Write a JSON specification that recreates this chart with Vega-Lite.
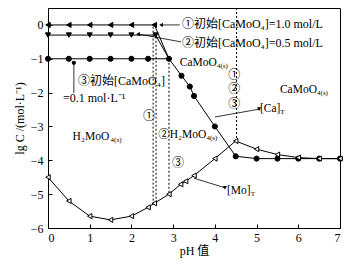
{
  "$schema": "https://vega.github.io/schema/vega-lite/v6.json",
  "width": 292,
  "height": 220,
  "autosize": {"type": "none"},
  "padding": {"left": 48, "top": 8, "right": 8, "bottom": 38},
  "background": "white",
  "config": {
    "view": {"stroke": "#000", "strokeWidth": 1},
    "font": "Liberation Serif, Noto Sans CJK SC",
    "axis": {
      "domainColor": "#000", "tickColor": "#000", "labelColor": "#000", "titleColor": "#000",
      "labelFont": "Liberation Serif", "labelFontSize": 12, "grid": false,
      "titleFont": "Liberation Serif, Noto Sans CJK SC", "titleFontWeight": "normal", "titleFontSize": 12
    }
  },
  "datasets": {
    "series": [
      {"s": "1", "pH": 0, "lgC": 0, "m": true},
      {"s": "1", "pH": 0.5, "lgC": 0, "m": true},
      {"s": "1", "pH": 1, "lgC": 0, "m": true},
      {"s": "1", "pH": 1.5, "lgC": 0, "m": true},
      {"s": "1", "pH": 2, "lgC": 0, "m": true},
      {"s": "1", "pH": 2.55, "lgC": 0, "m": true},
      {"s": "1", "pH": 2.9, "lgC": -1, "m": false},
      {"s": "2", "pH": 0, "lgC": -0.3, "m": true},
      {"s": "2", "pH": 0.5, "lgC": -0.3, "m": true},
      {"s": "2", "pH": 1, "lgC": -0.3, "m": true},
      {"s": "2", "pH": 1.5, "lgC": -0.3, "m": true},
      {"s": "2", "pH": 2, "lgC": -0.3, "m": true},
      {"s": "2", "pH": 2.58, "lgC": -0.3, "m": true},
      {"s": "2", "pH": 2.9, "lgC": -1, "m": false},
      {"s": "3", "pH": 0, "lgC": -1, "m": true},
      {"s": "3", "pH": 0.5, "lgC": -1, "m": true},
      {"s": "3", "pH": 1, "lgC": -1, "m": true},
      {"s": "3", "pH": 1.5, "lgC": -1, "m": true},
      {"s": "3", "pH": 2, "lgC": -1, "m": true},
      {"s": "3", "pH": 2.4, "lgC": -1, "m": true},
      {"s": "3", "pH": 2.9, "lgC": -1, "m": true},
      {"s": "3", "pH": 3.2, "lgC": -1.5, "m": true},
      {"s": "3", "pH": 3.4, "lgC": -1.82, "m": true},
      {"s": "3", "pH": 3.5, "lgC": -2.1, "m": true},
      {"s": "3", "pH": 4.0, "lgC": -3.0, "m": true},
      {"s": "3", "pH": 4.5, "lgC": -3.88, "m": true},
      {"s": "3", "pH": 5.0, "lgC": -3.95, "m": true},
      {"s": "3", "pH": 5.5, "lgC": -3.95, "m": true},
      {"s": "3", "pH": 6.0, "lgC": -3.95, "m": true},
      {"s": "3", "pH": 6.5, "lgC": -3.95, "m": true},
      {"s": "3", "pH": 7.0, "lgC": -3.95, "m": true},
      {"s": "Mo", "pH": 0, "lgC": -4.5, "m": true},
      {"s": "Mo", "pH": 0.5, "lgC": -5.2, "m": true},
      {"s": "Mo", "pH": 1, "lgC": -5.65, "m": true},
      {"s": "Mo", "pH": 1.5, "lgC": -5.76, "m": true},
      {"s": "Mo", "pH": 2, "lgC": -5.65, "m": true},
      {"s": "Mo", "pH": 2.4, "lgC": -5.39, "m": true},
      {"s": "Mo", "pH": 2.55, "lgC": -5.27, "m": true},
      {"s": "Mo", "pH": 2.9, "lgC": -5.0, "m": true},
      {"s": "Mo", "pH": 3.18, "lgC": -4.71, "m": true},
      {"s": "Mo", "pH": 3.3, "lgC": -4.62, "m": true},
      {"s": "Mo", "pH": 3.5, "lgC": -4.45, "m": true},
      {"s": "Mo", "pH": 4.0, "lgC": -3.95, "m": true},
      {"s": "Mo", "pH": 4.5, "lgC": -3.43, "m": true},
      {"s": "Mo", "pH": 5.0, "lgC": -3.67, "m": true},
      {"s": "Mo", "pH": 5.5, "lgC": -3.83, "m": true},
      {"s": "Mo", "pH": 6.0, "lgC": -3.92, "m": true},
      {"s": "Mo", "pH": 6.5, "lgC": -3.95, "m": true},
      {"s": "Mo", "pH": 7.0, "lgC": -3.95, "m": true}
    ],
    "dash": [
      {"pH": 2.52, "lgC": -0.05, "lgC2": -5.3},
      {"pH": 2.59, "lgC": -0.35, "lgC2": -5.25},
      {"pH": 2.9, "lgC": -1, "lgC2": -5.0},
      {"pH": 4.52, "lgC": 0.5, "lgC2": -3.42}
    ],
    "arrows": [
      {"pH": 3.16, "lgC": 0, "pH2": 2.71, "lgC2": 0, "head": "left"},
      {"pH": 3.19, "lgC": -0.5, "pH2": 2.16, "lgC2": -0.27, "head": "left"},
      {"pH": 0.62, "lgC": -2.01, "pH2": 0.62, "lgC2": -1.12, "head": "up"},
      {"pH": 4.0, "lgC": -2.72, "pH2": 5.06, "lgC2": -2.49, "head": "right"},
      {"pH": 3.5, "lgC": -4.53, "pH2": 4.24, "lgC2": -4.81, "head": "right"}
    ],
    "big": [
      {"pH": 3.21, "lgC": 0.03, "t": "①初始[CaMoO₄]=1.0 mol/L"},
      {"pH": 3.21, "lgC": -0.54, "t": "②初始[CaMoO₄]=0.5 mol/L"},
      {"pH": 0.72, "lgC": -1.66, "t": "③初始[CaMoO₄]"},
      {"pH": 0.36, "lgC": -2.16, "t": "=0.1 mol·L⁻¹"},
      {"pH": 4.32, "lgC": -1.48, "t": "①"},
      {"pH": 4.32, "lgC": -1.9, "t": "②"},
      {"pH": 4.32, "lgC": -2.34, "t": "③"},
      {"pH": 2.28, "lgC": -2.69, "t": "①"},
      {"pH": 2.97, "lgC": -4.07, "t": "③"}
    ],
    "chem": [
      {"pH": 3.16, "lgC": -1.12, "t": "CaMoO"},
      {"pH": 5.56, "lgC": -1.92, "t": "CaMoO"},
      {"pH": 5.08, "lgC": -2.49, "t": "[Ca]"},
      {"pH": 4.29, "lgC": -4.9, "t": "[Mo]"},
      {"pH": 0.59, "lgC": -3.32, "t": "H₂MoO"},
      {"pH": 2.64, "lgC": -3.25, "t": "②H₂MoO"}
    ],
    "subs": [
      {"pH": 4.05, "lgC": -1.12, "t": "4(s)"},
      {"pH": 6.45, "lgC": -1.92, "t": "4(s)"},
      {"pH": 5.57, "lgC": -2.49, "t": "T"},
      {"pH": 4.86, "lgC": -4.9, "t": "T"},
      {"pH": 1.5, "lgC": -3.32, "t": "4(s)"},
      {"pH": 3.8, "lgC": -3.25, "t": "4(s)"}
    ]
  },
  "encoding": {
    "x": {
      "field": "pH", "type": "quantitative",
      "scale": {"domain": [0, 7], "nice": false, "zero": false},
      "title": "pH 值",
      "axis": {
        "values": [0, 0.5, 1, 1.5, 2, 2.5, 3, 3.5, 4, 4.5, 5, 5.5, 6, 6.5, 7],
        "format": "d",
        "labelExpr": "datum.value % 1 == 0 ? datum.label : ''",
        "tickSize": {"condition": {"test": "datum.value % 1 != 0", "value": -2.5}, "value": -4},
        "labelPadding": 8,
        "titlePadding": 2
      }
    },
    "y": {
      "field": "lgC", "type": "quantitative",
      "scale": {"domain": [-6, 0.5], "nice": false, "zero": false},
      "title": "lg C /(mol·L⁻¹)",
      "axis": {
        "values": [-6, -5.5, -5, -4.5, -4, -3.5, -3, -2.5, -2, -1.5, -1, -0.5, 0],
        "format": "d",
        "labelExpr": "datum.value % 1 == 0 ? datum.label : ''",
        "tickSize": {"condition": {"test": "datum.value % 1 != 0", "value": -2.5}, "value": -4},
        "labelPadding": 9,
        "titlePadding": 4
      }
    }
  },
  "layer": [
    {
      "data": {"name": "dash"},
      "mark": {"type": "rule", "strokeDash": [2, 2], "strokeWidth": 1, "color": "#000"},
      "encoding": {"y2": {"field": "lgC2"}}
    },
    {
      "data": {"name": "series"},
      "mark": {"type": "line", "color": "#000", "strokeWidth": 1},
      "encoding": {"detail": {"field": "s", "type": "nominal"}}
    },
    {
      "data": {"name": "series"},
      "transform": [{"filter": "datum.m"}],
      "mark": {"type": "point", "stroke": "#000", "strokeWidth": 1, "opacity": 1, "fillOpacity": 1, "size": 26},
      "encoding": {
        "shape": {"field": "s", "type": "nominal", "legend": null,
          "scale": {"domain": ["1", "2", "3", "Mo"], "range": ["triangle-left", "triangle-down", "circle", "triangle-left"]}},
        "fill": {"field": "s", "type": "nominal", "legend": null,
          "scale": {"domain": ["1", "2", "3", "Mo"], "range": ["#000", "#000", "#000", "#fff"]}}
      }
    },
    {
      "data": {"name": "arrows"},
      "mark": {"type": "rule", "strokeWidth": 0.8, "color": "#000"},
      "encoding": {"x2": {"field": "pH2"}, "y2": {"field": "lgC2"}}
    },
    {
      "data": {"name": "arrows"},
      "mark": {"type": "point", "filled": true, "color": "#000", "opacity": 1, "size": 18},
      "encoding": {
        "x": {"field": "pH2", "type": "quantitative"},
        "y": {"field": "lgC2", "type": "quantitative"},
        "shape": {"field": "head", "type": "nominal", "legend": null,
          "scale": {"domain": ["left", "right", "up"], "range": ["triangle-left", "triangle-right", "triangle-up"]}}
      }
    },
    {
      "data": {"name": "big"},
      "mark": {"type": "text", "align": "left", "baseline": "middle", "fontSize": 12, "font": "Liberation Serif, Noto Sans CJK SC", "color": "#000"},
      "encoding": {"text": {"field": "t"}}
    },
    {
      "data": {"name": "chem"},
      "mark": {"type": "text", "align": "left", "baseline": "middle", "fontSize": 11.5, "font": "Liberation Serif, Noto Sans CJK SC", "color": "#000"},
      "encoding": {"text": {"field": "t"}}
    },
    {
      "data": {"name": "subs"},
      "mark": {"type": "text", "align": "left", "baseline": "middle", "dy": 3, "fontSize": 7, "font": "Liberation Serif", "color": "#000"},
      "encoding": {"text": {"field": "t"}}
    }
  ]
}
